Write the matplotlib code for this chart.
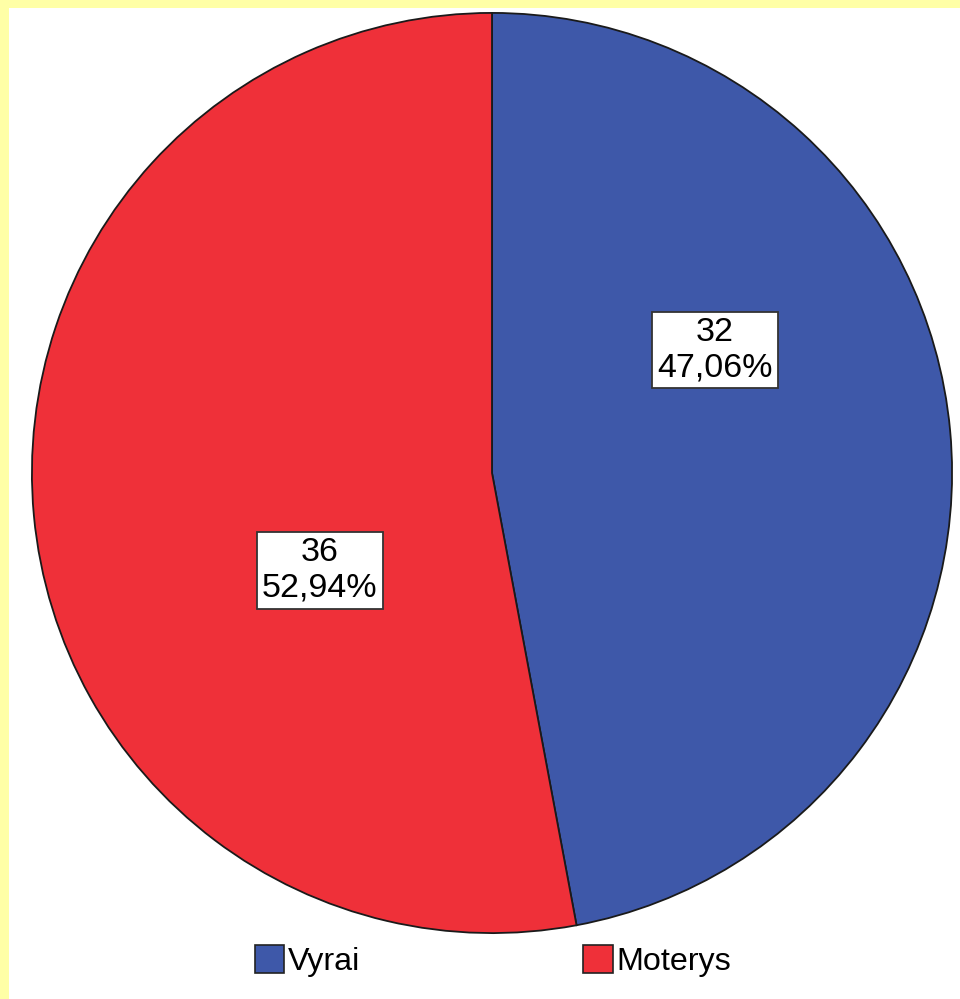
import matplotlib
matplotlib.use("Agg")
import matplotlib.pyplot as plt
from matplotlib.patches import Rectangle

# data
categories = ["Vyrai", "Moterys"]
counts = [32, 36]
colors = ["#3e58a9", "#ef3039"]

# where the value boxes sit, in units of the pie radius
label_pos = [(0.485, 0.267), (-0.374, -0.212)]

plt.rcParams["font.family"] = ["Liberation Sans", "DejaVu Sans"]

fig = plt.figure(figsize=(9.6, 9.99), dpi=100)
fig.patch.set_facecolor("white")

# pale yellow strips along the top and left edge
fig.patches.append(Rectangle((0, 1 - 8 / 999), 1, 8 / 999, transform=fig.transFigure,
                             facecolor="#ffffa6", edgecolor="none", zorder=0))
fig.patches.append(Rectangle((0, 0), 9 / 960, 1, transform=fig.transFigure,
                             facecolor="#ffffa6", edgecolor="none", zorder=0))

ax = fig.add_axes([31 / 960, 65 / 999, 922 / 960, 922 / 999])
wedges, _ = ax.pie(counts, colors=colors, startangle=90, counterclock=False,
                   radius=1.0,
                   wedgeprops=dict(edgecolor="#1a1a1a", linewidth=1.3))
ax.set_xlim(-1.002, 1.002)
ax.set_ylim(-1.002, 1.002)
ax.set_aspect("equal")
ax.axis("off")

total = sum(counts)
for (x, y), n in zip(label_pos, counts):
    pct = "{:.2f}".format(100.0 * n / total).replace(".", ",")
    ax.text(x, y, "{}\n{}%".format(n, pct), ha="center", va="center",
            fontsize=24.5, linespacing=1.18,
            bbox=dict(boxstyle="square,pad=0.15", facecolor="white",
                      edgecolor="#333333", linewidth=1.3))

leg = fig.legend(wedges, categories, loc="lower center",
                 bbox_to_anchor=(493 / 960, 0.006), ncol=2, frameon=False,
                 fontsize=23.2, handlelength=0.92, handleheight=0.97,
                 handletextpad=0.12, columnspacing=6.9, borderpad=0)
for h in leg.legend_handles:
    h.set_edgecolor("#222222")
    h.set_linewidth(1.2)

fig.savefig("out.png", dpi=100)
